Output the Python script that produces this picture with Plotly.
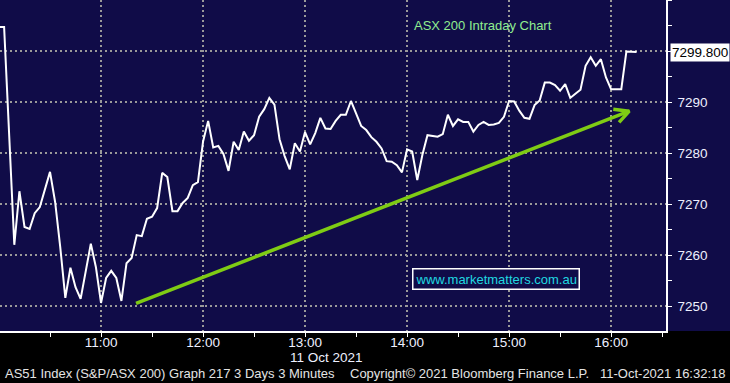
import plotly.graph_objects as go

DAY = "2021-10-11"

times = ["10:00","10:03","10:09","10:12","10:15","10:18","10:21","10:24","10:30","10:33",
         "10:36","10:39","10:42","10:45","10:48","10:54","10:57","11:00","11:03","11:06",
         "11:09","11:12","11:15","11:18","11:21","11:24","11:27","11:30","11:33","11:36",
         "11:39","11:42","11:45","11:48","11:51","11:54","11:57","12:00","12:03","12:06",
         "12:09","12:12","12:15","12:18","12:21","12:24","12:27","12:30","12:33","12:36",
         "12:39","12:42","12:45","12:48","12:51","12:54","12:57","13:00","13:03","13:06",
         "13:09","13:12","13:15","13:18","13:21","13:24","13:27","13:30","13:33","13:36",
         "13:39","13:42","13:45","13:48","13:51","13:54","13:57","14:00","14:03","14:06",
         "14:09","14:12","14:15","14:18","14:21","14:24","14:27","14:30","14:33","14:36",
         "14:39","14:42","14:45","14:48","14:51","14:54","14:57","15:00","15:03","15:06",
         "15:09","15:12","15:15","15:18","15:21","15:24","15:27","15:30","15:33","15:36",
         "15:39","15:42","15:45","15:48","15:51","15:54","15:57","16:00","16:06","16:09",
         "16:15"]

values = [7304.7,7304.7,7262.0,7272.5,7265.5,7265.1,7268.2,7269.4,7276.3,7270.4,
          7261.6,7251.6,7257.5,7253.7,7251.4,7262.2,7257.6,7250.6,7255.5,7256.9,
          7255.5,7251.0,7258.4,7259.4,7263.9,7263.7,7267.1,7267.5,7269.2,7276.1,
          7275.3,7268.6,7268.6,7270.2,7271.2,7273.7,7274.3,7282.2,7286.3,7281.1,
          7281.4,7279.8,7276.5,7282.2,7280.6,7284.2,7282.4,7283.5,7287.1,7288.6,
          7290.8,7289.5,7282.7,7279.4,7276.8,7281.9,7280.3,7284.1,7281.7,7283.9,
          7286.9,7284.8,7284.7,7286.3,7287.5,7287.5,7290.2,7287.8,7285.3,7284.5,
          7283.1,7282.2,7280.9,7278.4,7278.3,7277.6,7276.2,7280.7,7280.3,7274.7,
          7279.6,7283.5,7283.3,7283.2,7283.7,7287.5,7285.3,7286.6,7286.1,7286.1,
          7284.2,7285.5,7286.1,7285.5,7285.6,7285.9,7287.1,7290.2,7290.1,7288.3,
          7286.9,7286.7,7289.4,7290.3,7293.8,7293.8,7293.3,7292.2,7293.5,7290.8,
          7291.6,7292.4,7297.1,7298.8,7297.1,7298.4,7294.8,7292.5,7292.5,7299.9,
          7299.8]

assert len(times) == len(values)

last_value = 7299.8
last_label = "7299.800"

y_tickvals = [7250, 7260, 7270, 7280, 7290, 7300, 7310]
y_ticktext = ["7250", "7260", "7270", "7280", "7290", "", ""]
y_arrow_ticks = [7250, 7260, 7270, 7280, 7290, 7310]

x_range = [DAY + " 10:00:35", DAY + " 16:32:18"]
y_range = [7245.1, 7310]

# trend arrow drawn on the chart (shaft + open chevron head)
trend_t = [DAY + " 11:20:36", DAY + " 16:10:40"]
trend_v = [7250.5, 7288.2]
head_t = [DAY + " 16:01:18", DAY + " 16:10:40", DAY + " 16:04:42"]
head_v = [7288.6, 7288.2, 7286.0]

NAVY = "#100c48"
GREEN = "#7fcc14"
FONT = "Liberation Sans, Arial, sans-serif"
TICKCOL = "#eef0ff"

x_full = [DAY + " " + t for t in times]

fig = go.Figure()

fig.add_trace(go.Scatter(x=x_full, y=values, mode="lines",
                         line=dict(color="white", width=2), hoverinfo="skip"))

fig.add_trace(go.Scatter(x=trend_t, y=trend_v, mode="lines",
                         line=dict(color=GREEN, width=3.5), hoverinfo="skip"))
fig.add_trace(go.Scatter(x=head_t, y=head_v, mode="lines",
                         line=dict(color=GREEN, width=3.5), hoverinfo="skip"))

# right-axis arrow markers (positioned just outside the plot edge)
fig.add_trace(go.Scatter(x=[DAY + " 16:34:39"] * len(y_arrow_ticks), y=y_arrow_ticks,
                         mode="markers", cliponaxis=False,
                         marker=dict(symbol="triangle-right", size=8, color="white"),
                         hoverinfo="skip"))
# pointer of last-price box
fig.add_trace(go.Scatter(x=[DAY + " 16:38:30"], y=[last_value], mode="markers",
                         cliponaxis=False,
                         marker=dict(symbol="triangle-left", size=17, color="white"),
                         hoverinfo="skip"))

fig.update_layout(
    width=730, height=383,
    margin=dict(l=0, r=64, t=0, b=52),
    paper_bgcolor="black",
    plot_bgcolor=NAVY,
    showlegend=False,
    font=dict(family=FONT, size=13, color=TICKCOL),
    shapes=[dict(type="rect", xref="paper", yref="paper", x0=1, x1=730/666,
                 y0=0, y1=1, fillcolor=NAVY, line=dict(width=0), layer="below")],
)

fig.update_xaxes(
    type="date", range=x_range,
    dtick=3600000, tick0=DAY + " 10:00", tickformat="%H:%M",
    showgrid=True, gridcolor="#9a9a9a", gridwidth=2, griddash="2px,3px",
    showline=True, linecolor="white", linewidth=1.5,
    ticks="outside", ticklen=4, tickcolor="white", tickwidth=1,
    minor=dict(dtick=1800000, ticks="outside", ticklen=4, tickcolor="white", showgrid=False),
    tickfont=dict(family=FONT, size=13.5, color=TICKCOL),
    ticklabelstandoff=-6,
    zeroline=False,
)

fig.update_yaxes(
    side="right", range=y_range,
    tickmode="array", tickvals=y_tickvals, ticktext=y_ticktext,
    showgrid=True, gridcolor="#9a9a9a", gridwidth=2, griddash="2px,3px",
    showline=True, linecolor="white", linewidth=1.5,
    ticks="outside", ticklen=4, tickcolor="white", tickwidth=1,
    minor=dict(dtick=5, tick0=7250, ticks="outside", ticklen=4, tickcolor="white", showgrid=False),
    tickfont=dict(family=FONT, size=13.5, color=TICKCOL),
    ticklabelstandoff=3,
    zeroline=False,
)

annotations = [
    dict(text="ASX 200 Intraday Chart", xref="paper", yref="paper",
         x=412/666, y=1-25/331, xanchor="left", yanchor="middle", showarrow=False,
         font=dict(family=FONT, size=13, color="#90ee90")),
    dict(text="www.marketmatters.com.au", xref="paper", yref="paper",
         x=496/666, y=1-279/331, xanchor="center", yanchor="middle", showarrow=False,
         bordercolor="white", borderwidth=1.5, borderpad=2, bgcolor=NAVY,
         font=dict(family=FONT, size=13, color="#20d8e0")),
    dict(text=last_label, xref="paper", yref="y", x=730/666, y=last_value,
         xanchor="right", yanchor="middle", showarrow=False,
         bgcolor="white", borderpad=1,
         font=dict(family=FONT, size=13.5, color="black")),
    dict(text="11 Oct 2021", xref="paper", yref="paper",
         x=288/666, y=(331-357)/331, xanchor="left", yanchor="middle", showarrow=False,
         font=dict(family=FONT, size=13.5, color=TICKCOL)),
    dict(text="AS51 Index (S&P/ASX 200) Graph 217 3 Days 3 Minutes", xref="paper", yref="paper",
         x=3/666, y=(331-373)/331, xanchor="left", yanchor="middle", showarrow=False,
         font=dict(family=FONT, size=13, color="#e4e4e4")),
    dict(text="Copyright© 2021 Bloomberg Finance L.P.", xref="paper", yref="paper",
         x=348/666, y=(331-373)/331, xanchor="left", yanchor="middle", showarrow=False,
         font=dict(family=FONT, size=13, color="#e4e4e4")),
    dict(text="11-Oct-2021 16:32:18", xref="paper", yref="paper",
         x=728/666, y=(331-373)/331, xanchor="right", yanchor="middle", showarrow=False,
         font=dict(family=FONT, size=13, color="#e4e4e4")),
]
fig.update_layout(annotations=annotations)

fig.write_html("out.html")
